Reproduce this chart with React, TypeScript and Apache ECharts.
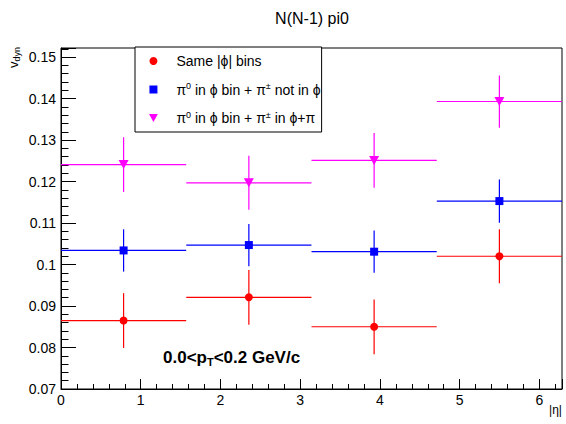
import React, { useEffect, useRef } from "react";
import * as echarts from "echarts";

const binCenters = [0.785, 2.356, 3.927, 5.498];
const binHalfWidths = [0.785, 0.785, 0.785, 0.785];

const sameVals = [0.0865, 0.0921, 0.085, 0.102];
const sameErrs = [0.0066, 0.0066, 0.0066, 0.0065];
const notInVals = [0.1034, 0.1047, 0.1031, 0.1153];
const notInErrs = [0.0051, 0.0051, 0.0051, 0.0052];
const inVals = [0.1241, 0.1197, 0.1251, 0.1393];
const inErrs = [0.0066, 0.0065, 0.0066, 0.0063];

const seriesNames = ["Same |ϕ| bins", "π0 in ϕ bin + π± not in ϕ", "π0 in ϕ bin + π± in ϕ+π"];
const legendLabels = [
  "Same |ϕ| bins",
  "π{sup|0} in ϕ bin + π{sup|±} not in ϕ",
  "π{sup|0} in ϕ bin + π{sup|±} in ϕ+π",
];
const colors = ["#ff0000", "#0000ff", "#ff00ff"];
const symbols = ["circle", "path://M0,0 L10,0 L10,10 L0,10 Z", "path://M0,0 L10,0 L5,9 Z"];

const FONT = "Liberation Sans, Arial, Helvetica, sans-serif";

export default function App() {
  const ref = useRef<HTMLDivElement>(null);
  useEffect(() => {
    if (!ref.current) return;
    const chart = echarts.init(ref.current, null, { renderer: "svg" });
    const allVals = [sameVals, notInVals, inVals];
    const allErrs = [sameErrs, notInErrs, inErrs];
    const series: any[] = [];
    allVals.forEach((vals, si) => {
      const data = vals.map((v, i) => [binCenters[i], v, binHalfWidths[i], allErrs[si][i]]);
      series.push({
        type: "scatter",
        name: seriesNames[si],
        data: data.map((d) => [d[0], d[1]]),
        symbol: symbols[si],
        symbolSize: si === 2 ? [10, 9] : si === 1 ? 8 : 8,
        itemStyle: { color: colors[si], opacity: 1 },
        z: 3,
      });
      series.push({
        type: "custom",
        name: seriesNames[si],
        data,
        encode: { x: 0, y: 1 },
        itemStyle: { color: colors[si] },
        renderItem: (params: any, api: any) => {
          const x = api.value(0);
          const y = api.value(1);
          const ex = api.value(2);
          const ey = api.value(3);
          const l = api.coord([x - ex, y]);
          const r = api.coord([x + ex, y]);
          const t = api.coord([x, y + ey]);
          const b = api.coord([x, y - ey]);
          const st = { stroke: colors[si], lineWidth: 1.2 };
          return {
            type: "group",
            children: [
              { type: "line", shape: { x1: l[0], y1: l[1], x2: r[0], y2: r[1] }, style: st },
              { type: "line", shape: { x1: t[0], y1: t[1], x2: b[0], y2: b[1] }, style: st },
            ],
          };
        },
        z: 2,
      });
    });

    const option: any = {
      animation: false,
      grid: { left: 61, right: 4, top: 48, bottom: 35, show: true, borderColor: "#000", borderWidth: 1, backgroundColor: "transparent" },
      xAxis: {
        type: "value",
        min: 0,
        max: Math.PI * 2,
        interval: 1,
        axisLine: { show: true, onZero: false, lineStyle: { color: "#000", width: 1 } },
        axisTick: { show: true, inside: true, length: 10, lineStyle: { color: "#000" } },
        minorTick: { show: true, splitNumber: 5, length: 5, lineStyle: { color: "#000" } },
        splitLine: { show: false },
        axisLabel: { color: "#000", fontSize: 14, fontFamily: FONT, margin: 4, showMaxLabel: false },
      },
      yAxis: {
        type: "value",
        min: 0.07,
        max: 0.1522,
        interval: 0.01,
        axisLine: { show: true, onZero: false, lineStyle: { color: "#000", width: 1 } },
        axisTick: { show: true, inside: true, length: 15, lineStyle: { color: "#000" } },
        minorTick: { show: true, splitNumber: 5, length: 7.5, lineStyle: { color: "#000" } },
        splitLine: { show: false },
        axisLabel: {
          color: "#000",
          fontSize: 14,
          fontFamily: FONT,
          margin: 5,
          showMaxLabel: false,
          formatter: (v: number) => String(parseFloat(v.toFixed(3))),
        },
      },
      legend: {
        orient: "vertical",
        left: 135,
        top: 47,
        padding: [6, 1, 6, 14],
        itemGap: 12.5,
        itemWidth: 36,
        itemHeight: 8,
        backgroundColor: "#fff",
        borderColor: "#000",
        borderWidth: 1,
        borderRadius: 0,
        selectedMode: false,
        data: seriesNames.map((n, i) => ({ name: n, icon: symbols[i], itemStyle: { color: colors[i] } })),
        formatter: (name: string) => legendLabels[seriesNames.indexOf(name)],
        textStyle: {
          color: "#000",
          fontSize: 14,
          fontFamily: FONT,
          lineHeight: 16,
          rich: {
            sup: { fontSize: 9, fontFamily: FONT, color: "#000", padding: [0, 0, 7, 0] },
          },
        },
      },
      graphic: [
        {
          type: "text",
          x: 312,
          y: 18,
          style: { text: "N(N-1) pi0", font: `16px ${FONT}`, fill: "#000", align: "center", verticalAlign: "middle" },
        },
        {
          type: "text",
          x: 13,
          y: 47,
          rotation: Math.PI / 2,
          style: {
            text: "v{sub|dyn}",
            fill: "#000",
            align: "right",
            verticalAlign: "middle",
            rich: {
              sub: { fontSize: 9, fontFamily: FONT, fill: "#000", padding: [7, 0, 0, 0] },
            },
            font: `13px ${FONT}`,
          },
        },
        {
          type: "text",
          x: 562,
          y: 410,
          style: { text: "|η|", font: `12px ${FONT}`, fill: "#000", align: "right", verticalAlign: "middle" },
        },
        {
          type: "text",
          x: 163,
          y: 357,
          style: {
            text: "0.0<p{sub|T}<0.2 GeV/c",
            font: `bold 17px ${FONT}`,
            fill: "#000",
            align: "left",
            verticalAlign: "middle",
            rich: {
              sub: { font: `bold 11px ${FONT}`, fill: "#000", padding: [10, 0, 0, 0] },
            },
          },
        },
      ],
      series,
    };
    chart.setOption(option);
    return () => chart.dispose();
  }, []);
  return <div ref={ref} style={{ position: "absolute", left: 0, top: 0, width: 566, height: 424 }} />;
}
